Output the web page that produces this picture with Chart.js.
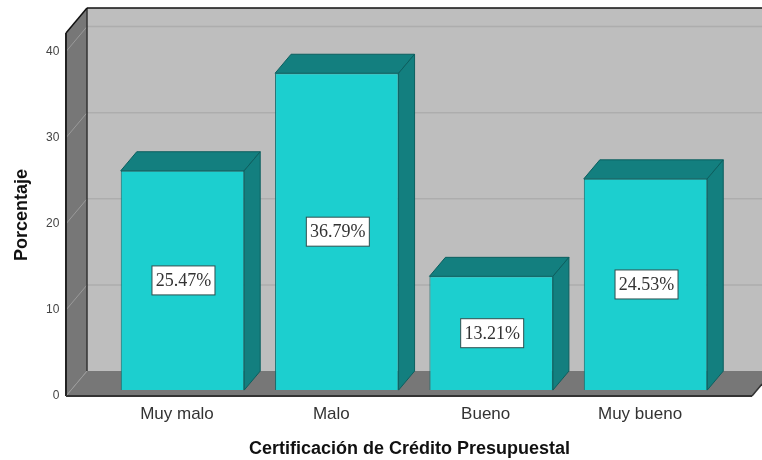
<!DOCTYPE html>
<html>
<head>
<meta charset="utf-8">
<style>
  html, body { margin: 0; padding: 0; background: #fff; }
  #wrap { width: 762px; height: 460px; }
</style>
</head>
<body>
<div id="wrap"><canvas id="chart"></canvas></div>
<script src="https://cdn.jsdelivr.net/npm/chart.js@4"></script>
<script>
const categories = ['Muy malo', 'Malo', 'Bueno', 'Muy bueno'];
const percentages = [25.47, 36.79, 13.21, 24.53];
const valueLabels = ['25.47%', '36.79%', '13.21%', '24.53%'];
const yTicks = [0, 10, 20, 30, 40];
const yAxisTitle = 'Porcentaje';
const xAxisTitle = 'Certificación de Crédito Presupuestal';

// fake 3D box: floor/wall depth and bar depth, in px
const wallLeft = 66, wallDx = 21, wallDy = 25, wallShift = 6, wallTopValue = 42.15;
const barDx = 16, barDy = 19;
const rightEdge = 752;

function poly(ctx, pts, fill, stroke, lw) {
    ctx.beginPath();
    pts.forEach((p, i) => i ? ctx.lineTo(p[0], p[1]) : ctx.moveTo(p[0], p[1]));
    ctx.closePath();
    if (fill) { ctx.fillStyle = fill; ctx.fill(); }
    if (stroke) { ctx.strokeStyle = stroke; ctx.lineWidth = lw || 1; ctx.stroke(); }
}

function line(ctx, x1, y1, x2, y2, color, lw) {
    ctx.beginPath();
    ctx.moveTo(x1, y1);
    ctx.lineTo(x2, y2);
    ctx.strokeStyle = color;
    ctx.lineWidth = lw;
    ctx.stroke();
}

// walls, floor, gridlines and the side/top faces of the bars
const boxPlugin = {
    id: 'box3d',
    afterLayout(chart) {
        // the x title sits a bit left of the bars' centre
        chart.scales.x.right -= 9;
    },
    beforeDatasetsDraw(chart) {
        const ctx = chart.ctx, y = chart.scales.y, w = chart.width;
        const front = v => y.getPixelForValue(v) + wallShift;
        const x0 = wallLeft, x1 = wallLeft + wallDx;
        const bottom = front(0), top = front(wallTopValue);
        ctx.save();
        poly(ctx, [[x1, top - wallDy], [w, top - wallDy], [w, bottom - wallDy], [x1, bottom - wallDy]], '#bebebe');
        poly(ctx, [[x0, top], [x1, top - wallDy], [x1, bottom - wallDy], [x0, bottom]], '#777777');
        poly(ctx, [[x0, bottom], [x1, bottom - wallDy], [w, bottom - wallDy], [w, bottom - 12], [rightEdge, bottom]], '#777777');
        yTicks.forEach(v => {
            const py = front(v);
            if (v > 0) line(ctx, x1, py - wallDy, w, py - wallDy, '#adadad', 1.5);
            line(ctx, x0, py, x1, py - wallDy, '#9a9a9a', 1);
        });
        line(ctx, x1, top - wallDy, x1, bottom - wallDy, '#333333', 1.5);
        line(ctx, x1, top - wallDy, w, top - wallDy, '#111111', 1.5);
        line(ctx, x0, top, x1, top - wallDy, '#111111', 1.5);
        line(ctx, x0, top, x0, bottom, '#222222', 2);
        line(ctx, x0, bottom, rightEdge, bottom, '#333333', 2);
        line(ctx, rightEdge, bottom, w, bottom - 12, '#333333', 1.5);

        chart.getDatasetMeta(0).data.forEach(bar => {
            const l = bar.x - bar.width / 2, r = bar.x + bar.width / 2;
            poly(ctx, [[l, bar.y], [l + barDx, bar.y - barDy], [r + barDx, bar.y - barDy], [r, bar.y]], '#137f7f', '#0c5f5f', 1);
            poly(ctx, [[r, bar.y], [r + barDx, bar.y - barDy], [r + barDx, bar.base - barDy], [r, bar.base]], '#137f7f', '#0c5f5f', 1);
        });
        ctx.restore();
    },
    afterDatasetsDraw(chart) {
        const ctx = chart.ctx;
        ctx.save();
        ctx.font = '18px "Liberation Serif"';
        ctx.textAlign = 'center';
        ctx.textBaseline = 'middle';
        chart.getDatasetMeta(0).data.forEach((bar, i) => {
            const cy = (bar.y + bar.base) / 2, bw = 63, bh = 29;
            ctx.fillStyle = '#ffffff';
            ctx.fillRect(bar.x - bw / 2 + 1, cy - bh / 2, bw, bh);
            ctx.strokeStyle = '#2f4f4f';
            ctx.lineWidth = 1;
            ctx.strokeRect(bar.x - bw / 2 + 1, cy - bh / 2, bw, bh);
            ctx.fillStyle = '#333333';
            ctx.fillText(valueLabels[i], bar.x + 1, cy + 1);
        });
        ctx.restore();
    }
};

new Chart(document.getElementById('chart').getContext('2d'), {
    type: 'bar',
    data: {
        labels: categories,
        datasets: [{
            data: percentages,
            backgroundColor: '#1ccfcf',
            borderColor: '#0e6a6a',
            borderWidth: 1,
            barPercentage: 1,
            categoryPercentage: 0.8
        }]
    },
    options: {
        responsive: true,
        maintainAspectRatio: false,
        animation: false,
        layout: { padding: { top: 40, right: 39.3, bottom: 0, left: 0 } },
        plugins: { legend: { display: false }, tooltip: { enabled: false } },
        scales: {
            x: {
                grid: { display: false },
                border: { display: false },
                ticks: { color: '#333333', font: { family: 'Liberation Sans', size: 17 }, labelOffset: -5.5, padding: 6, autoSkip: false, maxRotation: 0 },
                title: { display: true, text: xAxisTitle, color: '#111111', font: { family: 'Liberation Sans', size: 18, weight: 'bold' }, padding: { top: 7.9, bottom: 0 } }
            },
            y: {
                min: 0,
                max: 40.65,
                grid: { display: false, drawTicks: false },
                border: { display: false },
                // tick padding is large only to push labels left, don't let it reserve height
                afterFit: s => { s.width = 105.3; s.paddingTop = 0; s.paddingBottom = 0; },
                ticks: { stepSize: 10, includeBounds: false, color: '#444444', font: { family: 'Liberation Sans', size: 12 }, labelOffset: 6, padding: 46 },
                title: { display: true, text: yAxisTitle, color: '#111111', font: { family: 'Liberation Sans', size: 18, weight: 'bold' }, padding: { top: 11, bottom: 0 } }
            }
        }
    },
    plugins: [boxPlugin]
});
</script>
</body>
</html>
